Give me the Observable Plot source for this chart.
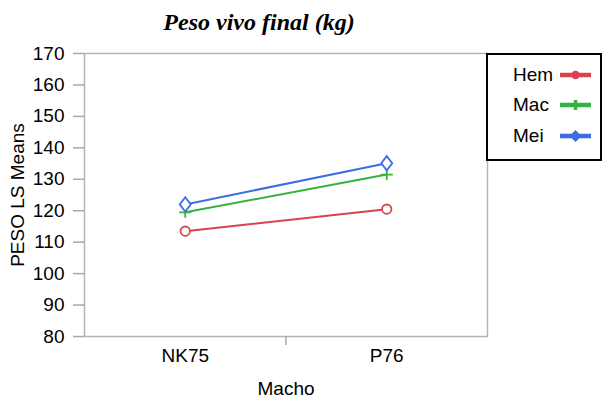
<!DOCTYPE html>
<html><head><meta charset="utf-8">
<script src="https://cdn.jsdelivr.net/npm/d3@7"></script>
<script src="https://cdn.jsdelivr.net/npm/@observablehq/plot@0.6"></script>
<style>
body{margin:0;background:#fff;}
#wrap{position:relative;width:603px;height:400px;overflow:hidden;background:#fff;}
#title{box-sizing:border-box;height:40px;width:518px;padding-top:11px;text-align:center;font-family:"Liberation Serif",serif;font-weight:bold;font-style:italic;font-size:24px;line-height:22px;color:#000;}
#legend{position:absolute;left:486px;top:53px;width:116px;height:108px;box-sizing:border-box;border:2px solid #000;background:#fff;font-family:"Liberation Sans",sans-serif;font-size:19px;}
.item{position:absolute;left:25px;height:31px;display:flex;align-items:center;}
.item span{display:inline-block;width:46px;}
</style></head>
<body>
<div id="wrap">
<div id="title">Peso vivo final (kg)</div>
<div id="chart"></div>
<div id="legend"></div>
</div>
<script>
const title = "Peso vivo final (kg)";
const categories = ["NK75", "P76"];
const series = ["Hem", "Mac", "Mei"];
const hemValues = [113.5, 120.5];
const macValues = [119.5, 131.5];
const meiValues = [122.0, 135.1];
const yTicks = [80, 90, 100, 110, 120, 130, 140, 150, 160, 170];
const colors = ["#d8434e", "#35b23f", "#3b6ee2"];
const xLabel = "Macho";
const yLabel = "PESO LS Means";

const valuesBySeries = [hemValues, macValues, meiValues];
const rows = [];
series.forEach((s, si) => valuesBySeries[si].forEach((v, i) => rows.push({serie: s, macho: categories[i], v})));
const xPos = d => categories.indexOf(d.macho) + 0.5;

const diamond = {draw(ctx, size) { const r = Math.sqrt(size / Math.PI); const h = r * 1.3; ctx.moveTo(0, -h); ctx.lineTo(r, 0); ctx.lineTo(0, h); ctx.lineTo(-r, 0); ctx.closePath(); }};
const plus = {draw(ctx, size) { const r = Math.sqrt(size / Math.PI); ctx.moveTo(-r * 1.1, 0); ctx.lineTo(r * 1.1, 0); ctx.moveTo(0, -r); ctx.lineTo(0, r); }};
const circle = {draw(ctx, size) { const r = Math.sqrt(size / Math.PI) * 0.85; ctx.moveTo(r, 0); ctx.arc(0, 0, r, 0, 2 * Math.PI); }};
const symbols = [circle, plus, diamond];

const chart = Plot.plot({
  width: 603,
  height: 360,
  marginLeft: 84,
  marginRight: 116,
  marginTop: 13,
  marginBottom: 64,
  style: {fontFamily: "'Liberation Sans', sans-serif", fontSize: "19px", color: "#000", background: "#fff"},
  x: {type: "linear", domain: [0, categories.length]},
  y: {domain: [80, 170]},
  color: {domain: series, range: colors},
  symbol: {domain: series, range: symbols},
  marks: [
    Plot.frame({stroke: "#b4b4b4", strokeWidth: 1.5}),
    Plot.axisY({ticks: yTicks, tickSize: 11, tickPadding: 9, stroke: "#a8a8a8", strokeWidth: 1.5, label: yLabel, labelAnchor: "center", labelArrow: false, labelOffset: 74, fill: "#000"}),
    Plot.axisX({ticks: categories.map((c, i) => i + 0.5), tickSize: 0, tickPadding: 12, tickFormat: v => categories[Math.round(v - 0.5)], label: null, fill: "#000"}),
    Plot.axisX({ticks: d3.range(1, categories.length), tickSize: 9, stroke: "#a8a8a8", strokeWidth: 1.5, tickFormat: () => "", label: xLabel, labelAnchor: "center", labelArrow: false, labelOffset: 58, fill: "#000"}),
    Plot.line(rows, {x: xPos, y: "v", z: "serie", stroke: "serie", strokeWidth: 2}),
    Plot.dot(rows, {x: xPos, y: "v", symbol: "serie", stroke: "serie", fill: "white", r: 5.5, strokeWidth: 1.8})
  ]
});
document.getElementById("chart").appendChild(chart);

// legend
const legend = document.getElementById("legend");
const swatchSymbols = [d3.symbolCircle, d3.symbolCross, d3.symbolDiamond2];
series.forEach((s, i) => {
  const item = document.createElement("div");
  item.className = "item";
  item.style.top = (4 + i * 30.5) + "px";
  const label = document.createElement("span");
  label.textContent = s;
  item.appendChild(label);
  const svg = d3.create("svg").attr("width", 34).attr("height", 16);
  svg.append("line").attr("x1", 1).attr("x2", 32).attr("y1", 8).attr("y2", 8).attr("stroke", colors[i]).attr("stroke-width", 4.5);
  if (i === 1) {
    svg.append("line").attr("x1", 16.5).attr("x2", 16.5).attr("y1", 3).attr("y2", 13).attr("stroke", colors[i]).attr("stroke-width", 3.5);
  } else {
    svg.append("path").attr("transform", "translate(16.5,8)").attr("d", d3.symbol(swatchSymbols[i], i === 0 ? 55 : 90)()).attr("fill", colors[i]);
  }
  item.appendChild(svg.node());
  legend.appendChild(item);
});
</script>
</body></html>
